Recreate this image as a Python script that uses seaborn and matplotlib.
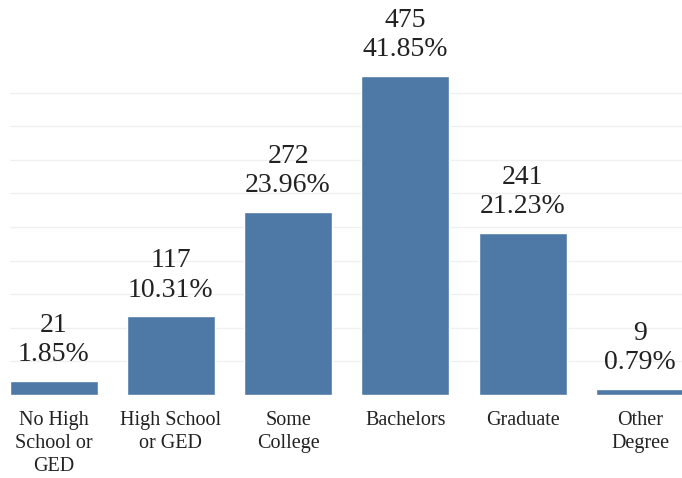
import matplotlib
matplotlib.use("Agg")
import matplotlib.pyplot as plt
import seaborn as sns
import pandas as pd

categories = ["No High\nSchool or\nGED", "High School\nor GED", "Some\nCollege",
              "Bachelors", "Graduate", "Other\nDegree"]
counts = [21, 117, 272, 475, 241, 9]
percents = [1.85, 10.31, 23.96, 41.85, 21.23, 0.79]

df = pd.DataFrame({"education": categories, "count": counts})

sns.set_style("white")
plt.rcParams["font.family"] = ["Liberation Serif", "DejaVu Serif"]

fig = plt.figure(figsize=(6.82, 4.78), dpi=100)
ax = fig.add_axes([10 / 682, 1 - 395 / 478, 672 / 682, 395 / 478])

sns.barplot(data=df, x="education", y="count", color="#4e79a7",
            saturation=1, width=0.75, ax=ax)

ax.set_xlim(-0.371, 5.358)
ax.set_ylim(0, 588)
ax.set_yticks(range(50, 500, 50))
ax.yaxis.grid(True, color="#f0f0f0", linewidth=1)
ax.set_axisbelow(True)
ax.tick_params(axis="y", left=False, labelleft=False)
ax.tick_params(axis="x", bottom=False, labelsize=14.5, colors="#222222", pad=8)
for lbl in ax.get_xticklabels():
    lbl.set_verticalalignment("top")
    lbl.set_linespacing(1.3)
ax.set_xlabel("")
ax.set_ylabel("")
for s in ax.spines.values():
    s.set_visible(False)

for i, (c, p) in enumerate(zip(counts, percents)):
    ax.annotate(f"{c}\n{p:.2f}%", xy=(i, c), xytext=(0, 10),
                textcoords="offset points", ha="center", va="bottom",
                fontsize=20, color="#222222", linespacing=1.22)

fig.savefig("out.png", dpi=100)
